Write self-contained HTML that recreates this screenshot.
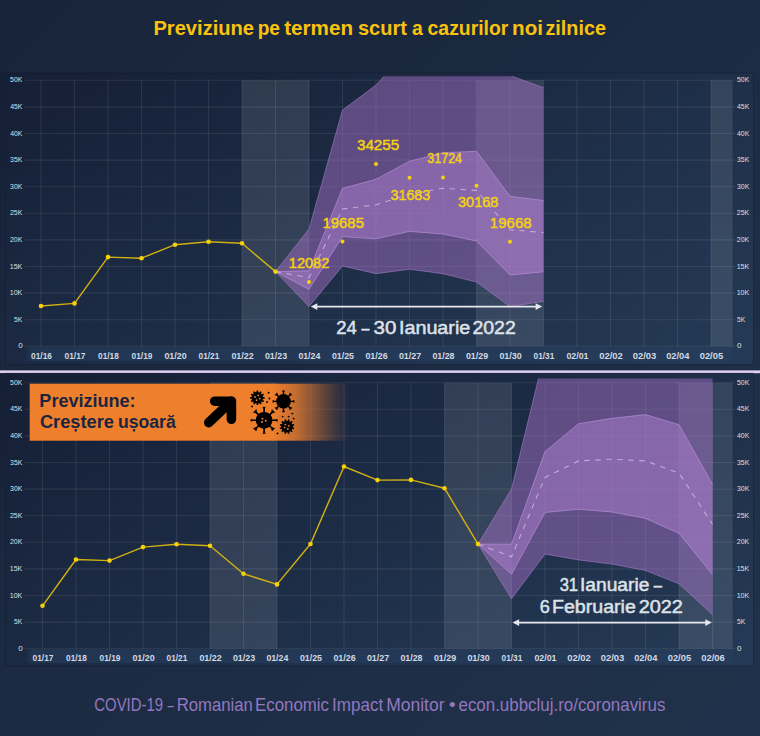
<!DOCTYPE html>
<html lang="ro"><head><meta charset="utf-8"><title>Previziune pe termen scurt a cazurilor noi zilnice</title>
<style>
html,body{margin:0;padding:0;background:#1c2b43;}
body{width:760px;height:736px;overflow:hidden;font-family:"Liberation Sans",sans-serif;}
svg{display:block;position:absolute;left:0;top:0;}
text{font-family:"Liberation Sans",sans-serif;}
.grid line{stroke:#ffffff;stroke-opacity:0.085;stroke-width:1.1;}
</style></head><body>
<svg width="760" height="736" viewBox="0 0 760 736">
<defs>
<linearGradient id="bg" gradientUnits="userSpaceOnUse" x1="0" y1="0" x2="760" y2="736">
<stop offset="0" stop-color="#182439"/><stop offset="1" stop-color="#20324b"/></linearGradient>
<linearGradient id="p1" gradientUnits="userSpaceOnUse" x1="5.5" y1="73" x2="298.5" y2="588">
<stop offset="0" stop-color="#151f35"/><stop offset="1" stop-color="#243955"/></linearGradient>
<linearGradient id="p2" gradientUnits="userSpaceOnUse" x1="5.5" y1="375" x2="298.5" y2="890">
<stop offset="0" stop-color="#151f35"/><stop offset="1" stop-color="#243955"/></linearGradient>
<linearGradient id="ls" x1="0" y1="0" x2="0" y2="1">
<stop offset="0" stop-color="#151f35" stop-opacity="1"/><stop offset="0.25" stop-color="#151f35" stop-opacity="0.8"/><stop offset="0.7" stop-color="#18233a" stop-opacity="0"/></linearGradient>
<linearGradient id="xb" gradientUnits="userSpaceOnUse" x1="25" y1="0" x2="732" y2="0">
<stop offset="0" stop-color="#213653" stop-opacity="0"/><stop offset="0.01" stop-color="#213653" stop-opacity="1"/><stop offset="1" stop-color="#253c5a"/></linearGradient>
<linearGradient id="ban" gradientUnits="userSpaceOnUse" x1="272" y1="0" x2="350" y2="0">
<stop offset="0" stop-color="#ee7f2d" stop-opacity="1"/><stop offset="0.3" stop-color="#ea7d2e" stop-opacity="0.82"/><stop offset="0.56" stop-color="#e07a30" stop-opacity="0.5"/><stop offset="0.82" stop-color="#d07535" stop-opacity="0.18"/><stop offset="1" stop-color="#c07035" stop-opacity="0"/></linearGradient>
<clipPath id="c1"><rect x="0" y="76.3" width="760" height="280"/></clipPath>
<clipPath id="c2"><rect x="0" y="378.4" width="760" height="280"/></clipPath>
</defs>
<rect x="0" y="0" width="760" height="736" fill="url(#bg)"/>

<g fill="#f9c20f">
<text transform="translate(153.44 34.6) scale(1.0427 1)" font-size="19.3" font-weight="bold" >Previziune</text>
<text transform="translate(257.71 34.6) scale(0.9887 1)" font-size="19.3" font-weight="bold" >pe</text>
<text transform="translate(284.2 34.6) scale(1.0706 1)" font-size="19.3" font-weight="bold" >termen</text>
<text transform="translate(357.97 34.6) scale(1.0366 1)" font-size="19.3" font-weight="bold" >scurt</text>
<text transform="translate(411.9 34.6) scale(1.0043 1)" font-size="19.3" font-weight="bold" >a</text>
<text transform="translate(427.59 34.6) scale(1.0042 1)" font-size="19.3" font-weight="bold" >cazurilor</text>
<text transform="translate(512.11 34.6) scale(1.0679 1)" font-size="19.3" font-weight="bold" >noi</text>
<text transform="translate(545.48 34.6) scale(1.0257 1)" font-size="19.3" font-weight="bold" >zilnice</text>
</g>
<rect x="5.5" y="73" width="748" height="291.6" fill="url(#p1)" stroke="#0d1526" stroke-opacity="0.35" stroke-width="1"/>
<rect x="0" y="73" width="5.6" height="291.6" fill="url(#ls)"/>
<rect x="25" y="347.3" width="707.5" height="13.4" fill="url(#xb)"/>
<rect x="242" y="80.3" width="67" height="266" fill="#ffffff" fill-opacity="0.10"/>
<rect x="476.5" y="80.3" width="67" height="266" fill="#ffffff" fill-opacity="0.10"/>
<rect x="711" y="80.3" width="21.5" height="266" fill="#ffffff" fill-opacity="0.10"/>
<g class="grid">
<line x1="24.5" x2="735" y1="346.3" y2="346.3"/>
<line x1="24.5" x2="735" y1="319.7" y2="319.7"/>
<line x1="24.5" x2="735" y1="293.1" y2="293.1"/>
<line x1="24.5" x2="735" y1="266.5" y2="266.5"/>
<line x1="24.5" x2="735" y1="239.9" y2="239.9"/>
<line x1="24.5" x2="735" y1="213.3" y2="213.3"/>
<line x1="24.5" x2="735" y1="186.7" y2="186.7"/>
<line x1="24.5" x2="735" y1="160.1" y2="160.1"/>
<line x1="24.5" x2="735" y1="133.5" y2="133.5"/>
<line x1="24.5" x2="735" y1="106.9" y2="106.9"/>
<line x1="24.5" x2="735" y1="80.3" y2="80.3"/>
<line x1="41" x2="41" y1="80.3" y2="346.3"/>
<line x1="74.5" x2="74.5" y1="80.3" y2="346.3"/>
<line x1="108" x2="108" y1="80.3" y2="346.3"/>
<line x1="141.5" x2="141.5" y1="80.3" y2="346.3"/>
<line x1="175" x2="175" y1="80.3" y2="346.3"/>
<line x1="208.5" x2="208.5" y1="80.3" y2="346.3"/>
<line x1="242" x2="242" y1="80.3" y2="346.3"/>
<line x1="275.5" x2="275.5" y1="80.3" y2="346.3"/>
<line x1="309" x2="309" y1="80.3" y2="346.3"/>
<line x1="342.5" x2="342.5" y1="80.3" y2="346.3"/>
<line x1="376" x2="376" y1="80.3" y2="346.3"/>
<line x1="409.5" x2="409.5" y1="80.3" y2="346.3"/>
<line x1="443" x2="443" y1="80.3" y2="346.3"/>
<line x1="476.5" x2="476.5" y1="80.3" y2="346.3"/>
<line x1="510" x2="510" y1="80.3" y2="346.3"/>
<line x1="543.5" x2="543.5" y1="80.3" y2="346.3"/>
<line x1="577" x2="577" y1="80.3" y2="346.3"/>
<line x1="610.5" x2="610.5" y1="80.3" y2="346.3"/>
<line x1="644" x2="644" y1="80.3" y2="346.3"/>
<line x1="677.5" x2="677.5" y1="80.3" y2="346.3"/>
<line x1="711" x2="711" y1="80.3" y2="346.3"/>
</g>
<g fill="#dde0e7">
<text transform="translate(18.13 348.4) scale(1.0833 1)" font-size="7.4" >0</text>
<text transform="translate(736.93 348.4) scale(1.0833 1)" font-size="7.4" >0</text>
<text transform="translate(14.07 321.8) scale(0.9127 1)" font-size="7.4" >5K</text>
<text transform="translate(736.97 321.8) scale(0.9127 1)" font-size="7.4" >5K</text>
<text transform="translate(9.78 295.2) scale(0.9538 1)" font-size="7.4" >10K</text>
<text transform="translate(736.68 295.2) scale(0.9538 1)" font-size="7.4" >10K</text>
<text transform="translate(9.78 268.6) scale(0.9538 1)" font-size="7.4" >15K</text>
<text transform="translate(736.68 268.6) scale(0.9538 1)" font-size="7.4" >15K</text>
<text transform="translate(9.97 242) scale(0.9389 1)" font-size="7.4" >20K</text>
<text transform="translate(736.87 242) scale(0.9389 1)" font-size="7.4" >20K</text>
<text transform="translate(9.97 215.4) scale(0.9389 1)" font-size="7.4" >25K</text>
<text transform="translate(736.87 215.4) scale(0.9389 1)" font-size="7.4" >25K</text>
<text transform="translate(10.07 188.8) scale(0.9316 1)" font-size="7.4" >30K</text>
<text transform="translate(736.97 188.8) scale(0.9316 1)" font-size="7.4" >30K</text>
<text transform="translate(10.07 162.2) scale(0.9316 1)" font-size="7.4" >35K</text>
<text transform="translate(736.97 162.2) scale(0.9316 1)" font-size="7.4" >35K</text>
<text transform="translate(10.16 135.6) scale(0.9244 1)" font-size="7.4" >40K</text>
<text transform="translate(737.06 135.6) scale(0.9244 1)" font-size="7.4" >40K</text>
<text transform="translate(10.16 109) scale(0.9244 1)" font-size="7.4" >45K</text>
<text transform="translate(737.06 109) scale(0.9244 1)" font-size="7.4" >45K</text>
<text transform="translate(10.07 82.4) scale(0.9316 1)" font-size="7.4" >50K</text>
<text transform="translate(736.97 82.4) scale(0.9316 1)" font-size="7.4" >50K</text>
</g>
<g fill="#d3d9e3">
<text transform="translate(31.08 358.65) scale(0.9238 1)" font-size="9" font-weight="bold" >01/16</text>
<text transform="translate(64.58 358.65) scale(0.9259 1)" font-size="9" font-weight="bold" >01/17</text>
<text transform="translate(98.08 358.65) scale(0.9217 1)" font-size="9" font-weight="bold" >01/18</text>
<text transform="translate(131.58 358.65) scale(0.9238 1)" font-size="9" font-weight="bold" >01/19</text>
<text transform="translate(164.38 358.65) scale(0.9878 1)" font-size="9" font-weight="bold" >01/20</text>
<text transform="translate(198.58 358.65) scale(0.9196 1)" font-size="9" font-weight="bold" >01/21</text>
<text transform="translate(231.38 358.65) scale(0.9878 1)" font-size="9" font-weight="bold" >01/22</text>
<text transform="translate(264.88 358.65) scale(0.9855 1)" font-size="9" font-weight="bold" >01/23</text>
<text transform="translate(298.38 358.65) scale(0.9722 1)" font-size="9" font-weight="bold" >01/24</text>
<text transform="translate(331.88 358.65) scale(0.9810 1)" font-size="9" font-weight="bold" >01/25</text>
<text transform="translate(365.38 358.65) scale(0.9855 1)" font-size="9" font-weight="bold" >01/26</text>
<text transform="translate(398.88 358.65) scale(0.9878 1)" font-size="9" font-weight="bold" >01/27</text>
<text transform="translate(432.38 358.65) scale(0.9833 1)" font-size="9" font-weight="bold" >01/28</text>
<text transform="translate(465.88 358.65) scale(0.9855 1)" font-size="9" font-weight="bold" >01/29</text>
<text transform="translate(499.38 358.65) scale(0.9878 1)" font-size="9" font-weight="bold" >01/30</text>
<text transform="translate(533.58 358.65) scale(0.9196 1)" font-size="9" font-weight="bold" >01/31</text>
<text transform="translate(566.38 358.65) scale(0.9810 1)" font-size="9" font-weight="bold" >02/01</text>
<text transform="translate(599.18 358.65) scale(1.0497 1)" font-size="9" font-weight="bold" >02/02</text>
<text transform="translate(632.68 358.65) scale(1.0473 1)" font-size="9" font-weight="bold" >02/03</text>
<text transform="translate(666.19 358.65) scale(1.0331 1)" font-size="9" font-weight="bold" >02/04</text>
<text transform="translate(699.69 358.65) scale(1.0425 1)" font-size="9" font-weight="bold" >02/05</text>
</g>
<g clip-path="url(#c1)">
<polygon points="275.5,271.6 309,229 342.5,110.1 376,85.1 409.5,48.4 443,48.4 476.5,48.4 510,75.5 543.5,87.7 543.5,301.3 510,306.6 476.5,282.1 443,273.7 409.5,269.2 376,273.7 342.5,266 309,306.6" fill="#a973ca" fill-opacity="0.47"/>
<g fill="none" stroke="#b98ad8" stroke-opacity="0.5" stroke-width="1" stroke-linejoin="round"><polyline points="275.5,271.6 309,229 342.5,110.1 376,85.1 409.5,48.4 443,48.4 476.5,48.4 510,75.5 543.5,87.7"/><polyline points="275.5,271.6 309,306.6 342.5,266 376,273.7 409.5,269.2 443,273.7 476.5,282.1 510,306.6 543.5,301.3"/></g>
<polygon points="275.5,271.6 309,270.8 342.5,188.3 376,179.3 409.5,161.2 443,152.7 476.5,151.3 510,196.3 543.5,200.5 543.5,271.8 510,275 476.5,241 443,234 409.5,231.4 376,238.8 342.5,236.7 309,289.4" fill="#ad80ce" fill-opacity="0.5"/>
<g fill="none" stroke="#c79bea" stroke-opacity="0.55" stroke-width="1" stroke-linejoin="round"><polyline points="275.5,271.6 309,270.8 342.5,188.3 376,179.3 409.5,161.2 443,152.7 476.5,151.3 510,196.3 543.5,200.5"/><polyline points="275.5,271.6 309,289.4 342.5,236.7 376,238.8 409.5,231.4 443,234 476.5,241 510,275 543.5,271.8"/></g>
<polyline points="275.5,271.6 309,277.7 342.5,209 376,204.8 409.5,194.1 443,188.3 476.5,190.4 510,229.8 543.5,232.5" fill="none" stroke="#e6daf5" stroke-opacity="0.6" stroke-width="1.1" stroke-dasharray="5.5 5.5"/>
</g>
<polyline points="41,306 74.5,303.4 108,257.1 141.5,258.2 175,244.7 208.5,241.8 242,243.3 275.5,271.6" fill="none" stroke="#d0b013" stroke-width="1.45" stroke-linejoin="round"/>
<g fill="#f5d208">
<circle cx="41" cy="306" r="2.3"/>
<circle cx="74.5" cy="303.4" r="2.3"/>
<circle cx="108" cy="257.1" r="2.3"/>
<circle cx="141.5" cy="258.2" r="2.3"/>
<circle cx="175" cy="244.7" r="2.3"/>
<circle cx="208.5" cy="241.8" r="2.3"/>
<circle cx="242" cy="243.3" r="2.3"/>
<circle cx="275.5" cy="271.6" r="2.3"/>
</g>
<g fill="#f5d208">
<circle cx="309" cy="282" r="2"/>
<circle cx="342.5" cy="241.6" r="2"/>
<circle cx="376" cy="164.1" r="2"/>
<circle cx="409.5" cy="177.7" r="2"/>
<circle cx="443" cy="177.5" r="2"/>
<circle cx="476.5" cy="185.8" r="2"/>
<circle cx="510" cy="241.7" r="2"/>
</g>
<g fill="#f4d111" stroke="#f4d111" stroke-width="0.5">
<text transform="translate(288.79 267.9) scale(0.9908 1)" font-size="14.7" >12082</text>
<text transform="translate(322.47 227.6) scale(1.0162 1)" font-size="14.7" >19685</text>
<text transform="translate(356.92 150.3) scale(1.0371 1)" font-size="14.7" >34255</text>
<text transform="translate(390.55 200.3) scale(0.9718 1)" font-size="14.7" >31683</text>
<text transform="translate(427.21 163.2) scale(0.8539 1)" font-size="14.7" >31724</text>
<text transform="translate(457.94 206.8) scale(0.9919 1)" font-size="14.7" >30168</text>
<text transform="translate(489.86 227.6) scale(1.0213 1)" font-size="14.7" >19668</text>
</g>
<line x1="314.8" x2="538.1" y1="306.6" y2="306.6" stroke="#e6e8ee" stroke-width="1.8"/>
<polygon points="310.8,306.6 317.3,303.3 317.3,309.9" fill="#e6e8ee"/>
<polygon points="542.1,306.6 535.6,303.3 535.6,309.9" fill="#e6e8ee"/>
<g fill="#dde1e8" stroke="#dde1e8" stroke-width="0.5">
<text transform="translate(336.24 333.5) scale(1.0083 1)" font-size="18.3" >24</text>
<text transform="translate(361.6 333.5) scale(0.7675 1)" font-size="18.3" >–</text>
<text transform="translate(373.56 333.5) scale(1.1176 1)" font-size="18.3" >30</text>
<text transform="translate(398.96 333.5) scale(1.0788 1)" font-size="18.3" >Ianuarie</text>
<text transform="translate(472.49 333.5) scale(1.0636 1)" font-size="18.3" >2022</text>
</g>
<rect x="0" y="370.4" width="760" height="2.8" fill="#e1d2f5"/>
<rect x="5.5" y="373.2" width="748" height="292.8" fill="url(#p2)" stroke="#0d1526" stroke-opacity="0.35" stroke-width="1"/>
<rect x="0" y="373.2" width="5.6" height="292.8" fill="url(#ls)"/>
<rect x="25" y="649.7" width="707.5" height="13.4" fill="url(#xb)"/>
<rect x="210" y="382.7" width="67" height="266" fill="#ffffff" fill-opacity="0.10"/>
<rect x="444.5" y="382.7" width="67" height="266" fill="#ffffff" fill-opacity="0.10"/>
<rect x="679" y="382.7" width="53.5" height="266" fill="#ffffff" fill-opacity="0.10"/>
<g class="grid">
<line x1="24.5" x2="735" y1="648.7" y2="648.7"/>
<line x1="24.5" x2="735" y1="622.1" y2="622.1"/>
<line x1="24.5" x2="735" y1="595.5" y2="595.5"/>
<line x1="24.5" x2="735" y1="568.9" y2="568.9"/>
<line x1="24.5" x2="735" y1="542.3" y2="542.3"/>
<line x1="24.5" x2="735" y1="515.7" y2="515.7"/>
<line x1="24.5" x2="735" y1="489.1" y2="489.1"/>
<line x1="24.5" x2="735" y1="462.5" y2="462.5"/>
<line x1="24.5" x2="735" y1="435.9" y2="435.9"/>
<line x1="24.5" x2="735" y1="409.3" y2="409.3"/>
<line x1="24.5" x2="735" y1="382.7" y2="382.7"/>
<line x1="42.5" x2="42.5" y1="382.7" y2="648.7"/>
<line x1="76" x2="76" y1="382.7" y2="648.7"/>
<line x1="109.5" x2="109.5" y1="382.7" y2="648.7"/>
<line x1="143" x2="143" y1="382.7" y2="648.7"/>
<line x1="176.5" x2="176.5" y1="382.7" y2="648.7"/>
<line x1="210" x2="210" y1="382.7" y2="648.7"/>
<line x1="243.5" x2="243.5" y1="382.7" y2="648.7"/>
<line x1="277" x2="277" y1="382.7" y2="648.7"/>
<line x1="310.5" x2="310.5" y1="382.7" y2="648.7"/>
<line x1="344" x2="344" y1="382.7" y2="648.7"/>
<line x1="377.5" x2="377.5" y1="382.7" y2="648.7"/>
<line x1="411" x2="411" y1="382.7" y2="648.7"/>
<line x1="444.5" x2="444.5" y1="382.7" y2="648.7"/>
<line x1="478" x2="478" y1="382.7" y2="648.7"/>
<line x1="511.5" x2="511.5" y1="382.7" y2="648.7"/>
<line x1="545" x2="545" y1="382.7" y2="648.7"/>
<line x1="578.5" x2="578.5" y1="382.7" y2="648.7"/>
<line x1="612" x2="612" y1="382.7" y2="648.7"/>
<line x1="645.5" x2="645.5" y1="382.7" y2="648.7"/>
<line x1="679" x2="679" y1="382.7" y2="648.7"/>
<line x1="712.5" x2="712.5" y1="382.7" y2="648.7"/>
</g>
<g fill="#dde0e7">
<text transform="translate(18.13 650.8) scale(1.0833 1)" font-size="7.4" >0</text>
<text transform="translate(736.93 650.8) scale(1.0833 1)" font-size="7.4" >0</text>
<text transform="translate(14.07 624.2) scale(0.9127 1)" font-size="7.4" >5K</text>
<text transform="translate(736.97 624.2) scale(0.9127 1)" font-size="7.4" >5K</text>
<text transform="translate(9.78 597.6) scale(0.9538 1)" font-size="7.4" >10K</text>
<text transform="translate(736.68 597.6) scale(0.9538 1)" font-size="7.4" >10K</text>
<text transform="translate(9.78 571) scale(0.9538 1)" font-size="7.4" >15K</text>
<text transform="translate(736.68 571) scale(0.9538 1)" font-size="7.4" >15K</text>
<text transform="translate(9.97 544.4) scale(0.9389 1)" font-size="7.4" >20K</text>
<text transform="translate(736.87 544.4) scale(0.9389 1)" font-size="7.4" >20K</text>
<text transform="translate(9.97 517.8) scale(0.9389 1)" font-size="7.4" >25K</text>
<text transform="translate(736.87 517.8) scale(0.9389 1)" font-size="7.4" >25K</text>
<text transform="translate(10.07 491.2) scale(0.9316 1)" font-size="7.4" >30K</text>
<text transform="translate(736.97 491.2) scale(0.9316 1)" font-size="7.4" >30K</text>
<text transform="translate(10.07 464.6) scale(0.9316 1)" font-size="7.4" >35K</text>
<text transform="translate(736.97 464.6) scale(0.9316 1)" font-size="7.4" >35K</text>
<text transform="translate(10.16 438) scale(0.9244 1)" font-size="7.4" >40K</text>
<text transform="translate(737.06 438) scale(0.9244 1)" font-size="7.4" >40K</text>
<text transform="translate(10.16 411.4) scale(0.9244 1)" font-size="7.4" >45K</text>
<text transform="translate(737.06 411.4) scale(0.9244 1)" font-size="7.4" >45K</text>
<text transform="translate(10.07 384.8) scale(0.9316 1)" font-size="7.4" >50K</text>
<text transform="translate(736.97 384.8) scale(0.9316 1)" font-size="7.4" >50K</text>
</g>
<g fill="#d3d9e3">
<text transform="translate(32.58 661.05) scale(0.9259 1)" font-size="9" font-weight="bold" >01/17</text>
<text transform="translate(66.08 661.05) scale(0.9217 1)" font-size="9" font-weight="bold" >01/18</text>
<text transform="translate(99.58 661.05) scale(0.9238 1)" font-size="9" font-weight="bold" >01/19</text>
<text transform="translate(132.38 661.05) scale(0.9878 1)" font-size="9" font-weight="bold" >01/20</text>
<text transform="translate(166.58 661.05) scale(0.9196 1)" font-size="9" font-weight="bold" >01/21</text>
<text transform="translate(199.38 661.05) scale(0.9878 1)" font-size="9" font-weight="bold" >01/22</text>
<text transform="translate(232.88 661.05) scale(0.9855 1)" font-size="9" font-weight="bold" >01/23</text>
<text transform="translate(266.38 661.05) scale(0.9722 1)" font-size="9" font-weight="bold" >01/24</text>
<text transform="translate(299.88 661.05) scale(0.9810 1)" font-size="9" font-weight="bold" >01/25</text>
<text transform="translate(333.38 661.05) scale(0.9855 1)" font-size="9" font-weight="bold" >01/26</text>
<text transform="translate(366.88 661.05) scale(0.9878 1)" font-size="9" font-weight="bold" >01/27</text>
<text transform="translate(400.38 661.05) scale(0.9833 1)" font-size="9" font-weight="bold" >01/28</text>
<text transform="translate(433.88 661.05) scale(0.9855 1)" font-size="9" font-weight="bold" >01/29</text>
<text transform="translate(467.38 661.05) scale(0.9878 1)" font-size="9" font-weight="bold" >01/30</text>
<text transform="translate(501.58 661.05) scale(0.9196 1)" font-size="9" font-weight="bold" >01/31</text>
<text transform="translate(534.38 661.05) scale(0.9810 1)" font-size="9" font-weight="bold" >02/01</text>
<text transform="translate(567.18 661.05) scale(1.0497 1)" font-size="9" font-weight="bold" >02/02</text>
<text transform="translate(600.68 661.05) scale(1.0473 1)" font-size="9" font-weight="bold" >02/03</text>
<text transform="translate(634.19 661.05) scale(1.0331 1)" font-size="9" font-weight="bold" >02/04</text>
<text transform="translate(667.69 661.05) scale(1.0425 1)" font-size="9" font-weight="bold" >02/05</text>
<text transform="translate(701.18 661.05) scale(1.0473 1)" font-size="9" font-weight="bold" >02/06</text>
</g>
<g clip-path="url(#c2)">
<polygon points="478,544.1 511.5,489.1 545,351.8 578.5,329.5 612,329.5 645.5,329.5 679,329.5 712.5,329.5 712.5,614.7 679,583.8 645.5,570.5 612,564.1 578.5,559.9 545,554 511.5,598.7" fill="#a973ca" fill-opacity="0.47"/>
<g fill="none" stroke="#b98ad8" stroke-opacity="0.5" stroke-width="1" stroke-linejoin="round"><polyline points="478,544.1 511.5,489.1 545,351.8 578.5,329.5 612,329.5 645.5,329.5 679,329.5 712.5,329.5"/><polyline points="478,544.1 511.5,598.7 545,554 578.5,559.9 612,564.1 645.5,570.5 679,583.8 712.5,614.7"/></g>
<polygon points="478,544.1 511.5,544.2 545,451.6 578.5,423.7 612,418.3 645.5,414.6 679,424.7 712.5,484.3 712.5,574.5 679,533.3 645.5,518.4 612,512 578.5,509.3 545,512.5 511.5,574.2" fill="#ad80ce" fill-opacity="0.5"/>
<g fill="none" stroke="#c79bea" stroke-opacity="0.55" stroke-width="1" stroke-linejoin="round"><polyline points="478,544.1 511.5,544.2 545,451.6 578.5,423.7 612,418.3 645.5,414.6 679,424.7 712.5,484.3"/><polyline points="478,544.1 511.5,574.2 545,512.5 578.5,509.3 612,512 645.5,518.4 679,533.3 712.5,574.5"/></g>
<polyline points="478,544.1 511.5,556.7 545,477.4 578.5,460.9 612,459.3 645.5,460.9 679,473.1 712.5,524.2" fill="none" stroke="#e6daf5" stroke-opacity="0.6" stroke-width="1.1" stroke-dasharray="5.5 5.5"/>
</g>
<polyline points="42.5,605.8 76,559.5 109.5,560.6 143,547.1 176.5,544.2 210,545.7 243.5,573.8 277,584.4 310.5,544 344,466.5 377.5,480.1 411,479.9 444.5,488.2 478,544.1" fill="none" stroke="#d0b013" stroke-width="1.45" stroke-linejoin="round"/>
<g fill="#f5d208">
<circle cx="42.5" cy="605.8" r="2.3"/>
<circle cx="76" cy="559.5" r="2.3"/>
<circle cx="109.5" cy="560.6" r="2.3"/>
<circle cx="143" cy="547.1" r="2.3"/>
<circle cx="176.5" cy="544.2" r="2.3"/>
<circle cx="210" cy="545.7" r="2.3"/>
<circle cx="243.5" cy="573.8" r="2.3"/>
<circle cx="277" cy="584.4" r="2.3"/>
<circle cx="310.5" cy="544" r="2.3"/>
<circle cx="344" cy="466.5" r="2.3"/>
<circle cx="377.5" cy="480.1" r="2.3"/>
<circle cx="411" cy="479.9" r="2.3"/>
<circle cx="444.5" cy="488.2" r="2.3"/>
<circle cx="478" cy="544.1" r="2.3"/>
</g>
<line x1="516.6" x2="707.8" y1="622.6" y2="622.6" stroke="#e6e8ee" stroke-width="1.8"/>
<polygon points="512.6,622.6 519.1,619.3 519.1,625.9" fill="#e6e8ee"/>
<polygon points="711.8,622.6 705.3,619.3 705.3,625.9" fill="#e6e8ee"/>
<g fill="#dde1e8" stroke="#dde1e8" stroke-width="0.5">
<text transform="translate(559.68 590.8) scale(0.9033 1)" font-size="18.3" >31</text>
<text transform="translate(580 590.8) scale(1.0491 1)" font-size="18.3" >Ianuarie</text>
<text transform="translate(653.7 590.8) scale(0.8063 1)" font-size="18.3" >–</text>
<text transform="translate(539.65 612.6) scale(0.9909 1)" font-size="18.3" >6</text>
<text transform="translate(551.97 612.6) scale(1.0716 1)" font-size="18.3" >Februarie</text>
<text transform="translate(638.67 612.6) scale(1.0867 1)" font-size="18.3" >2022</text>
</g>
<rect x="29.7" y="383.7" width="243" height="57" fill="#ee7f2d"/>
<rect x="272" y="383.7" width="78" height="57" fill="url(#ban)"/>
<g fill="#1b2540">
<text transform="translate(39.37 406.5) scale(0.9503 1)" font-size="19" font-weight="bold" >Previziune:</text>
<text transform="translate(39.93 428.2) scale(0.9614 1)" font-size="19" font-weight="bold" >Creștere</text>
<text transform="translate(117.97 428.2) scale(0.9279 1)" font-size="19" font-weight="bold" >ușoară</text>
</g>
<g fill="none" stroke="#000" stroke-width="9.6" stroke-linecap="round" stroke-linejoin="round"><path d="M208.8 422.6 L231.3 401.2"/><path d="M214.7 401.2 H231.4 V419.3"/></g>
<g fill="#000"><circle cx="257.4" cy="397.8" r="5.8"/><path d="M262.2 397.8L264.6 397.8M261.56 400.2L263.64 401.4M259.8 401.96L261 404.04M257.4 402.6L257.4 405M255 401.96L253.8 404.04M253.24 400.2L251.16 401.4M252.6 397.8L250.2 397.8M253.24 395.4L251.16 394.2M255 393.64L253.8 391.56M257.4 393L257.4 390.6M259.8 393.64L261 391.56M261.56 395.4L263.64 394.2" stroke="#000" stroke-width="1.7" fill="none"/><circle cx="255" cy="397" r="0.9" fill="#ee7f2d"/><circle cx="258.2" cy="395.4" r="0.9" fill="#ee7f2d"/><circle cx="259.8" cy="398.6" r="0.9" fill="#ee7f2d"/><circle cx="256.6" cy="400.2" r="0.9" fill="#ee7f2d"/><circle cx="283.5" cy="401.4" r="7.3"/><path d="M289.8 401.4L293.1 401.4M287.95 405.85L290.29 408.19M283.5 407.7L283.5 411M279.05 405.85L276.71 408.19M277.2 401.4L273.9 401.4M279.05 396.95L276.71 394.61M283.5 395.1L283.5 391.8M287.95 396.95L290.29 394.61" stroke="#000" stroke-width="1.4" fill="none"/><path d="M292.3 401.4L294.1 402.6L294.1 400.2ZM289.34 407.24L289.89 410L292.1 407.79ZM283.5 410.2L282.3 412L284.7 412ZM277.66 407.24L274.9 407.79L277.11 410ZM274.7 401.4L272.9 400.2L272.9 402.6ZM277.66 395.56L277.11 392.8L274.9 395.01ZM283.5 392.6L284.7 390.8L282.3 390.8ZM289.34 395.56L292.1 395.01L289.89 392.8Z" stroke="#000" stroke-width="0.5" stroke-linejoin="round"/><circle cx="264.1" cy="420.3" r="8.4"/><path d="M271.5 420.3L276.3 420.3M269.33 425.53L272.73 428.93M264.1 427.7L264.1 432.5M258.87 425.53L255.47 428.93M256.7 420.3L251.9 420.3M258.87 415.07L255.47 411.67M264.1 412.9L264.1 408.1M269.33 415.07L272.73 411.67" stroke="#000" stroke-width="1.6" fill="none"/><path d="M275.4 420.3L277.3 421.55L277.3 419.05ZM271.28 427.48L272.02 431.05L274.85 428.22ZM264.1 431.6L262.85 433.5L265.35 433.5ZM256.92 427.48L253.35 428.22L256.18 431.05ZM252.8 420.3L250.9 419.05L250.9 421.55ZM256.92 413.12L256.18 409.55L253.35 412.38ZM264.1 409L265.35 407.1L262.85 407.1ZM271.28 413.12L274.85 412.38L272.02 409.55Z" stroke="#000" stroke-width="0.5" stroke-linejoin="round"/><circle cx="262.5" cy="418.7" r="1.0" fill="#ee7f2d"/><circle cx="265.7" cy="420.7" r="1.0" fill="#ee7f2d"/><circle cx="262" cy="421.9" r="1.0" fill="#ee7f2d"/><circle cx="287" cy="426.6" r="5.8"/><path d="M291.64 427.83L294.05 428.48M290.4 429.99L292.17 431.75M288.25 431.23L288.9 433.65M285.77 431.24L285.12 433.65M283.61 430L281.85 431.77M282.37 427.85L279.95 428.5M282.36 425.37L279.95 424.72M283.6 423.21L281.83 421.45M285.75 421.97L285.1 419.55M288.23 421.96L288.88 419.55M290.39 423.2L292.15 421.43M291.63 425.35L294.05 424.7" stroke="#000" stroke-width="1.7" fill="none"/><circle cx="285.4" cy="424.6" r="0.9" fill="#ee7f2d"/><circle cx="288.8" cy="425.8" r="0.9" fill="#ee7f2d"/><circle cx="284.6" cy="427.6" r="0.9" fill="#ee7f2d"/><circle cx="287.8" cy="429" r="0.9" fill="#ee7f2d"/><circle cx="268.6" cy="392.7" r="0.95"/><circle cx="269.4" cy="398.5" r="0.95"/><circle cx="267" cy="402" r="0.95"/><circle cx="252.1" cy="406.5" r="0.95"/><circle cx="292.3" cy="413.6" r="0.95"/><circle cx="282.7" cy="416.6" r="0.95"/><circle cx="288.6" cy="416.6" r="0.95"/><circle cx="293.7" cy="418.6" r="0.95"/><circle cx="277.5" cy="433.4" r="0.95"/></g>
<g fill="#9377bf">
<text transform="translate(94.3 711.4) scale(0.8196 1)" font-size="18.2" >COVID-19</text>
<text transform="translate(167.5 711.4) scale(0.6105 1)" font-size="18.2" >–</text>
<text transform="translate(176.69 711.4) scale(0.9191 1)" font-size="18.2" >Romanian</text>
<text transform="translate(255.09 711.4) scale(0.9245 1)" font-size="18.2" >Economic</text>
<text transform="translate(332.07 711.4) scale(0.9351 1)" font-size="18.2" >Impact</text>
<text transform="translate(386.13 711.4) scale(0.9632 1)" font-size="18.2" >Monitor</text>
<text transform="translate(449.11 711.4) scale(1.0354 1)" font-size="18.2" >•</text>
<text transform="translate(458.47 711.4) scale(0.9303 1)" font-size="18.2" >econ.ubbcluj.ro/coronavirus</text>
</g>
</svg></body></html>
